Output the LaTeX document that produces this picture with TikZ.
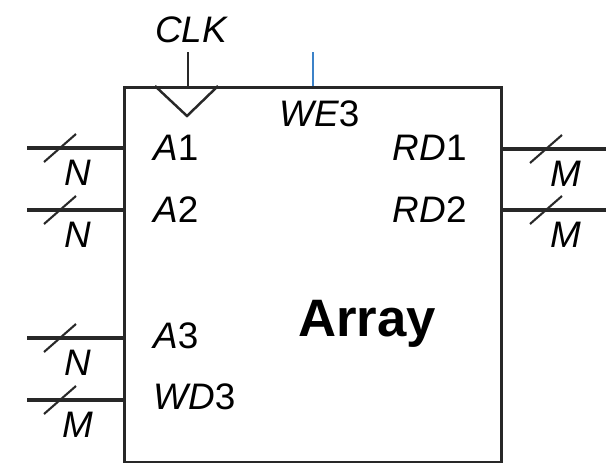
\documentclass[tikz,border=0pt]{standalone}
\usepackage{fontspec}
\setmainfont{Liberation Sans}
\definecolor{weblue}{RGB}{60,130,200}
\definecolor{wire}{RGB}{40,40,40}
\begin{document}
\begin{tikzpicture}[x=0.02cm, y=-0.02cm, line join=miter, draw=wire]
    \tikzset{
        lbl/.style={font=\fontsize{21}{21}\selectfont, inner sep=0pt},
        bus/.style={line width=2.4pt},
        slash/.style={line width=1.2pt},
    }
    \useasboundingbox (0,0) rectangle (606,463);
    % Box
    \node (arr) [draw, line width=1.7pt, anchor=north west, inner sep=0pt,
        minimum width=7.54cm, minimum height=7.5cm] at (123,86) {};
    \node (title) [font=\fontsize{30}{30}\selectfont\bfseries, inner sep=0pt, anchor=base] at (367,336) {Array};
    % Clock
    \coordinate (clk) at (188,52);
    \draw[line width=1.4pt] (clk) -- (clk |- arr.north);
    \draw[line width=1.4pt] (155,86) -- (187,116) -- (218,86);
    \node (clklbl) [lbl, anchor=base] at (191,42) {\itshape CLK};
    % Write enable
    \coordinate (we) at (313,52);
    \draw[weblue, line width=1.2pt] (we) -- (we |- arr.north);
    \node (welbl) [lbl, anchor=base west] at (279,126) {{\itshape WE}3};
    % Inputs
    \foreach \y/\name/\w in {148/a1/N, 210/a2/N, 338/a3/N, 400/wd3/M} {
        \coordinate (\name) at (27,\y);
        \draw[bus] (\name) -- (\name -| arr.west);
        \draw[slash] (44,\y+14) -- (76,\y-14);
        \node (\name w) [lbl] at (78,\y+25) {\itshape\w};
    }
    \node (a1lbl) [lbl, anchor=base west] at (153,160) {{\itshape A}1};
    \node (a2lbl) [lbl, anchor=base west] at (153,222) {{\itshape A}2};
    \node (a3lbl) [lbl, anchor=base west] at (153,348) {{\itshape A}3};
    \node (wd3lbl) [lbl, anchor=base west] at (153,409) {{\itshape WD}3};
    % Outputs
    \foreach \y/\name in {149/rd1, 210/rd2} {
        \coordinate (\name) at (606,\y);
        \draw[bus] (\name -| arr.east) -- (\name);
        \draw[slash] (530,\y+14) -- (562,\y-14);
        \node (\name w) [lbl] at (566,\y+25) {\itshape M};
    }
    \node (rd1lbl) [lbl, anchor=base east] at (467,160) {{\itshape RD}1};
    \node (rd2lbl) [lbl, anchor=base east] at (467,222) {{\itshape RD}2};
\end{tikzpicture}
\end{document}
